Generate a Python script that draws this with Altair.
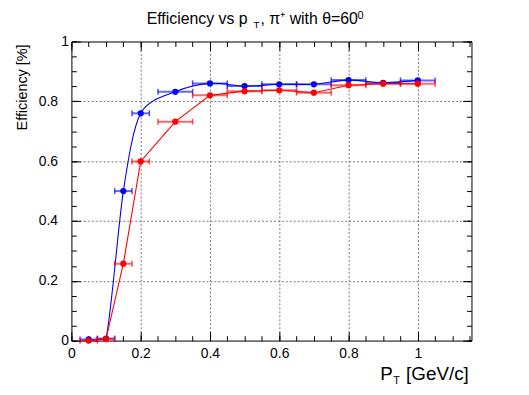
import altair as alt
import pandas as pd

# ---------------- data ----------------
pt = [0.05, 0.10, 0.15, 0.20, 0.30, 0.40, 0.50, 0.60, 0.70, 0.80, 0.90, 1.00]
pt_err = [0.025, 0.025, 0.025, 0.025, 0.05, 0.05, 0.05, 0.05, 0.05, 0.05, 0.05, 0.05]
eff_blue = [0.004, 0.007, 0.500, 0.760, 0.832, 0.860, 0.851, 0.857, 0.857, 0.871, 0.862, 0.870]
eff_red = [0.000, 0.005, 0.257, 0.599, 0.732, 0.820, 0.834, 0.837, 0.829, 0.854, 0.859, 0.859]
series_names = ["blue", "red"]
series_colors = ["#0000ff", "#ff0000"]

x_major = [0, 0.2, 0.4, 0.6, 0.8, 1.0]
x_minor = [round(i * 0.05, 2) for i in range(24)]
y_major = [0, 0.2, 0.4, 0.6, 0.8, 1.0]
y_minor = [round(i * 0.05, 2) for i in range(21)]

rows = []
for name, vals in zip(series_names, [eff_blue, eff_red]):
    for x, e, y in zip(pt, pt_err, vals):
        rows.append({"series": name, "x": x, "y": y, "xlo": x - e, "xhi": x + e})
df = pd.DataFrame(rows)

FONT = "Liberation Sans"
xs = alt.Scale(domain=[0, 1.155], zero=False, nice=False)
ys = alt.Scale(domain=[0, 1], zero=False, nice=False)
cs = alt.Scale(domain=series_names, range=series_colors)


def ax(orient, values, size, labels=False, grid=False, **kw):
    return alt.Axis(
        orient=orient, values=values, tickSize=size, offset=-size, domain=False,
        labels=labels, grid=grid, title=None, tickColor="black", tickWidth=1,
        labelFont=FONT, labelFontSize=14, labelColor="black", labelOverlap=False,
        labelFlush=False, gridColor="#777777", gridDash=[2, 2], gridWidth=1,
        format="~g", **kw)


base = alt.Chart(df)

blue_line = base.transform_filter(alt.datum.series == "blue").mark_line(
    interpolate="cardinal", tension=0.15, color="#0000ff", strokeWidth=1.1, clip=True
).encode(
    x=alt.X("x:Q", scale=xs, axis=ax("bottom", x_major, 9, labels=True, grid=True, labelPadding=6)),
    y=alt.Y("y:Q", scale=ys, axis=ax("left", y_major, 9, labels=True, grid=True,
                                     labelPadding={"condition": {"test": "datum.value == 0 || datum.value == 1", "value": 3}, "value": 14})),
)

red_line = base.transform_filter(alt.datum.series == "red").mark_line(
    color="#ff0000", strokeWidth=1.1
).encode(
    x=alt.X("x:Q", scale=xs, axis=ax("bottom", x_minor, 5)),
    y=alt.Y("y:Q", scale=ys, axis=ax("left", y_minor, 5)),
)

err = base.mark_rule(strokeWidth=2, opacity=0.6).encode(
    x=alt.X("xlo:Q", scale=xs, axis=ax("top", x_major, 9)),
    x2="xhi:Q",
    y=alt.Y("y:Q", scale=ys, axis=ax("right", y_major, 9)),
    color=alt.Color("series:N", scale=cs, legend=None),
)

caps = base.transform_fold(["xlo", "xhi"], as_=["k", "v"]).mark_tick(
    orient="vertical", size=6, thickness=1.5, opacity=0.7
).encode(
    x=alt.X("v:Q", scale=xs, axis=ax("top", x_minor, 5)),
    y=alt.Y("y:Q", scale=ys, axis=ax("right", y_minor, 5)),
    color=alt.Color("series:N", scale=cs, legend=None),
)

points = base.mark_circle(size=40, opacity=1).encode(
    x=alt.X("x:Q", scale=xs, axis=None),
    y=alt.Y("y:Q", scale=ys, axis=None),
    color=alt.Color("series:N", scale=cs, legend=None),
)


def txt(s, x, y, size, align="left", angle=0):
    return alt.Chart(pd.DataFrame({"t": [s]})).mark_text(
        align=align, baseline="alphabetic", font=FONT, fontSize=size, color="black", angle=angle
    ).encode(text="t:N", x=alt.value(x), y=alt.value(y))


texts = [
    txt("Efficiency vs p", 76, -18, 16),
    txt("T", 184, -14, 10),
    txt(", \u03c0\u207a with \u03b8=60", 191, -18, 16),
    txt("0", 289, -23, 11),
    txt("P", 312, 342, 19),
    txt("T", 325, 346, 11),
    txt("[GeV/c]", 338, 342, 19),
    txt("Efficiency [%]", -45, 3, 14.5, align="right", angle=270),
]

chart = alt.layer(blue_line, red_line, err, caps, points, *texts).resolve_axis(
    x="independent", y="independent"
).properties(
    width=404, height=302,
    padding={"left": 64, "top": 32, "right": 50, "bottom": 45},
    autosize=alt.AutoSizeParams(type="none"),
    background="white",
).configure_view(stroke="black", strokeWidth=1)

chart.save("out.html", embed_options={"renderer": "svg", "actions": False})
